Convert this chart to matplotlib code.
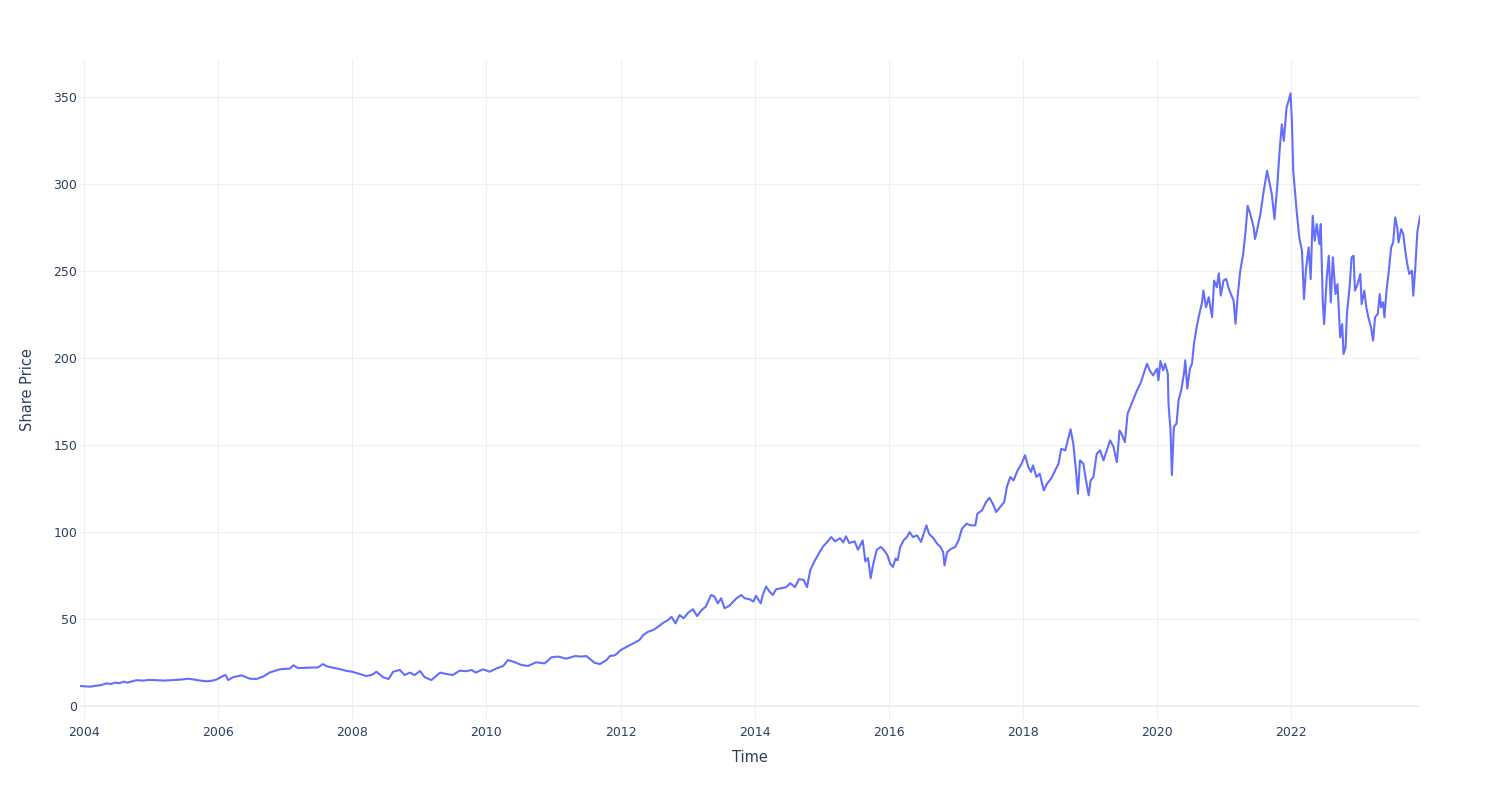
import matplotlib
matplotlib.use("Agg")
import matplotlib.pyplot as plt

# ---- data ----
time_years = [
    2003.94, 2004.00, 2004.09, 2004.17, 2004.24, 2004.34, 2004.40, 2004.46, 2004.53, 2004.59,
    2004.65, 2004.71, 2004.78, 2004.88, 2004.98, 2005.08, 2005.20, 2005.33, 2005.45, 2005.55,
    2005.64, 2005.73, 2005.83, 2005.92, 2005.98, 2006.07, 2006.11, 2006.15, 2006.22, 2006.35,
    2006.47, 2006.57, 2006.67, 2006.77, 2006.92, 2007.07, 2007.12, 2007.19, 2007.36, 2007.49,
    2007.56, 2007.62, 2007.76, 2007.82, 2007.91, 2008.00, 2008.11, 2008.21, 2008.30, 2008.36,
    2008.46, 2008.54, 2008.61, 2008.71, 2008.78, 2008.86, 2008.93, 2009.01, 2009.08, 2009.18,
    2009.31, 2009.40, 2009.50, 2009.60, 2009.70, 2009.78, 2009.84, 2009.95, 2010.05, 2010.15,
    2010.25, 2010.32, 2010.40, 2010.52, 2010.62, 2010.74, 2010.87, 2010.97, 2011.07, 2011.19,
    2011.32, 2011.41, 2011.49, 2011.61, 2011.69, 2011.79,
    2011.84, 2011.92, 2012.00, 2012.09, 2012.19, 2012.28, 2012.34, 2012.41, 2012.49, 2012.56,
    2012.64, 2012.71, 2012.76, 2012.82, 2012.88, 2012.94, 2013.01, 2013.08, 2013.14, 2013.21,
    2013.27, 2013.35, 2013.40, 2013.45, 2013.50, 2013.55, 2013.62, 2013.68, 2013.73, 2013.80,
    2013.85, 2013.93, 2013.98, 2014.02, 2014.09, 2014.12, 2014.17, 2014.22, 2014.27, 2014.32,
    2014.40, 2014.47, 2014.53, 2014.60, 2014.66, 2014.73, 2014.78, 2014.83, 2014.89, 2014.96,
    2015.02, 2015.09, 2015.14, 2015.20, 2015.27, 2015.32, 2015.36, 2015.41, 2015.49, 2015.54,
    2015.61, 2015.65, 2015.69, 2015.73, 2015.76, 2015.82, 2015.88, 2015.93, 2015.98, 2016.02,
    2016.06, 2016.10, 2016.13, 2016.17, 2016.22, 2016.27, 2016.31, 2016.36, 2016.42, 2016.48,
    2016.52, 2016.56, 2016.60, 2016.67, 2016.72, 2016.77, 2016.81, 2016.83, 2016.87, 2016.93,
    2016.99, 2017.04, 2017.09, 2017.16, 2017.22, 2017.29, 2017.32, 2017.39, 2017.45, 2017.50,
    2017.55, 2017.60, 2017.66, 2017.72, 2017.76, 2017.81, 2017.86, 2017.92, 2017.98, 2018.03,
    2018.08, 2018.12, 2018.15, 2018.20, 2018.25, 2018.31, 2018.36, 2018.42, 2018.48, 2018.53,
    2018.57, 2018.63, 2018.68, 2018.71, 2018.75, 2018.79, 2018.82, 2018.85, 2018.90, 2018.94,
    2018.98, 2019.01, 2019.05, 2019.10, 2019.15, 2019.20, 2019.25, 2019.30, 2019.35, 2019.40,
    2019.44, 2019.47, 2019.52, 2019.56, 2019.60, 2019.65, 2019.70, 2019.75, 2019.80, 2019.85,
    2019.89, 2019.94, 2020.00, 2020.02, 2020.05, 2020.09, 2020.12, 2020.16, 2020.17, 2020.20,
    2020.22, 2020.25, 2020.29, 2020.32, 2020.36, 2020.40, 2020.42, 2020.45, 2020.49, 2020.52,
    2020.55, 2020.59, 2020.62, 2020.67, 2020.69, 2020.73, 2020.77, 2020.82, 2020.85, 2020.89,
    2020.92, 2020.95, 2020.99, 2021.03, 2021.07, 2021.10, 2021.14, 2021.17, 2021.20, 2021.24,
    2021.28, 2021.32, 2021.35, 2021.39, 2021.44, 2021.46, 2021.50, 2021.54, 2021.59, 2021.64,
    2021.67, 2021.71, 2021.75, 2021.79, 2021.83, 2021.86, 2021.89, 2021.93, 2021.96, 2021.99,
    2022.01, 2022.03, 2022.06, 2022.08, 2022.12, 2022.16, 2022.19, 2022.22, 2022.26, 2022.29,
    2022.32, 2022.35, 2022.38, 2022.42, 2022.44, 2022.47, 2022.49, 2022.53, 2022.56, 2022.59,
    2022.62, 2022.66, 2022.69, 2022.73, 2022.76, 2022.78, 2022.81, 2022.83, 2022.87, 2022.90,
    2022.93, 2022.95, 2022.99, 2023.03, 2023.05, 2023.09, 2023.12, 2023.15, 2023.19, 2023.22,
    2023.25, 2023.29, 2023.32, 2023.34, 2023.37, 2023.39, 2023.42, 2023.45, 2023.49, 2023.52,
    2023.55, 2023.58, 2023.60, 2023.64, 2023.67, 2023.70, 2023.73, 2023.76, 2023.80, 2023.82,
    2023.85, 2023.88, 2023.92,
]

share_price = [
    11.5, 11.3, 11.1, 11.6, 11.9, 13.0, 12.6, 13.4, 13.1, 14.0,
    13.4, 14.1, 14.8, 14.6, 15.0, 14.8, 14.6, 14.9, 15.2, 15.7,
    15.2, 14.6, 14.2, 14.6, 15.3, 17.2, 17.8, 14.9, 16.5, 17.6,
    15.7, 15.5, 16.9, 19.3, 21.1, 21.5, 23.4, 21.8, 22.0, 22.2,
    24.1, 22.8, 21.6, 21.1, 20.2, 19.7, 18.4, 17.2, 18.0, 19.7,
    16.5, 15.5, 19.7, 20.7, 17.8, 19.2, 17.8, 20.1, 16.5, 14.9,
    19.2, 18.4, 17.8, 20.3, 20.0, 20.7, 19.2, 21.1, 19.7, 21.6,
    23.0, 26.4, 25.5, 23.6, 23.0, 25.1, 24.5, 28.0, 28.4, 27.2,
    28.7, 28.4, 28.7, 24.9, 24.1, 26.4,
    28.7, 29.2, 32.1, 34.0, 36.0, 37.9, 40.8, 42.7, 43.7, 45.6,
    47.9, 49.4, 51.3, 47.5, 52.3, 50.4, 53.7, 55.6, 51.7, 55.2,
    57.1, 63.8, 62.9, 59.0, 61.9, 56.2, 57.5, 60.0, 61.9, 63.8,
    61.9, 61.3, 60.0, 63.3, 59.0, 63.8, 68.7, 65.8, 63.8, 67.1,
    67.7, 68.3, 70.6, 68.3, 72.9, 72.5, 68.3, 78.3, 83.1, 87.9,
    91.7, 94.6, 97.1, 94.6, 96.5, 94.0, 97.5, 93.7, 94.6, 89.8,
    95.2, 83.1, 85.0, 73.5, 80.2, 89.8, 91.4, 89.5, 86.6, 81.8,
    79.9, 84.7, 83.7, 91.4, 95.2, 97.1, 100.0, 97.1, 98.1, 94.3,
    99.0, 103.8, 99.0, 96.2, 93.3, 91.4, 88.5, 80.8, 88.5, 90.4,
    91.4, 95.2, 101.9, 104.8, 103.8, 103.8, 110.5, 112.5, 117.2, 119.7,
    116.3, 111.5, 114.4, 117.2, 125.9, 131.6, 129.7, 135.4, 139.3, 144.1,
    137.4, 134.5, 138.3, 131.6, 133.5, 123.9, 127.8, 130.7, 135.4, 139.3,
    147.9, 146.9, 154.6, 159.0, 150.8, 135.4, 122.0, 141.2, 139.3, 129.7,
    121.1, 129.7, 131.6, 145.0, 146.9, 141.2, 146.9, 152.7, 148.9, 140.2,
    158.4, 156.5, 151.7, 168.0, 171.8, 176.6, 181.4, 185.2, 191.0, 196.7,
    192.9, 190.0, 193.9, 187.2, 198.3, 192.9, 196.7, 191.0, 173.8, 158.5,
    132.7, 160.4, 162.3, 175.7, 181.5, 191.0, 198.7, 182.4, 193.9, 196.7,
    208.2, 217.8, 223.5, 232.1, 238.8, 229.2, 235.0, 223.5, 244.5, 240.7,
    248.7, 235.9, 244.5, 245.5, 239.7, 236.9, 233.1, 219.7, 235.0, 250.2,
    258.8, 273.2, 287.5, 282.7, 275.1, 268.4, 275.1, 282.7, 296.1, 307.6,
    301.8, 294.2, 279.9, 298.0, 321.0, 334.3, 324.8, 343.9, 347.7, 352.1,
    336.2, 307.7, 294.3, 284.7, 269.3, 261.7, 233.9, 251.1, 263.6, 245.4,
    281.8, 267.4, 277.0, 265.5, 277.0, 233.0, 219.5, 246.4, 258.8, 232.0,
    257.9, 236.8, 242.5, 211.9, 219.5, 202.3, 206.1, 225.3, 240.6, 257.9,
    258.8, 238.7, 242.5, 248.3, 231.0, 238.7, 229.1, 223.4, 217.6, 210.0,
    223.4, 225.3, 236.8, 229.1, 232.0, 223.4, 238.7, 248.3, 263.6, 266.5,
    280.8, 275.1, 266.5, 274.1, 271.3, 261.7, 254.0, 248.3, 250.2, 235.8,
    252.1, 272.2, 281.5,
]

x_ticks = [2004, 2006, 2008, 2010, 2012, 2014, 2016, 2018, 2020, 2022]
x_tick_labels = [str(v) for v in x_ticks]
y_ticks = [0, 50, 100, 150, 200, 250, 300, 350]
y_tick_labels = [str(v) for v in y_ticks]

# ---- styling ----
plt.rcParams['font.family'] = ['DejaVu Sans']
TEXT = '#2a3f5f'
GRID = '#EBF0F8'
LINE = '#636efa'

W, H = 1500, 800
fig = plt.figure(figsize=(W / 100, H / 100), dpi=100)
ax = fig.add_axes([80 / W, 80 / H, 1340 / W, 660 / H])

ax.plot(time_years, share_price, color=LINE, linewidth=1.5, solid_joinstyle='round', zorder=3)

ax.set_xlim(2003.94, 2023.92)
ax.set_ylim(-8.05, 371.3)

ax.set_xticks(x_ticks)
ax.set_xticklabels(x_tick_labels)
ax.set_yticks(y_ticks)
ax.set_yticklabels(y_tick_labels)

ax.tick_params(axis='both', length=0, labelsize=9, labelcolor=TEXT)
ax.tick_params(axis='x', pad=4)
ax.tick_params(axis='y', pad=2)

for s in ax.spines.values():
    s.set_visible(False)

ax.grid(True, color=GRID, linewidth=0.75, zorder=0)
ax.axhline(0, color=GRID, linewidth=1.5, zorder=1)
ax.set_axisbelow(True)

ax.set_xlabel('Time', fontsize=10.5, color=TEXT, labelpad=8)
ax.set_ylabel('Share Price', fontsize=10.5, color=TEXT, labelpad=13)

fig.savefig('out.png', dpi=100, facecolor='white')
